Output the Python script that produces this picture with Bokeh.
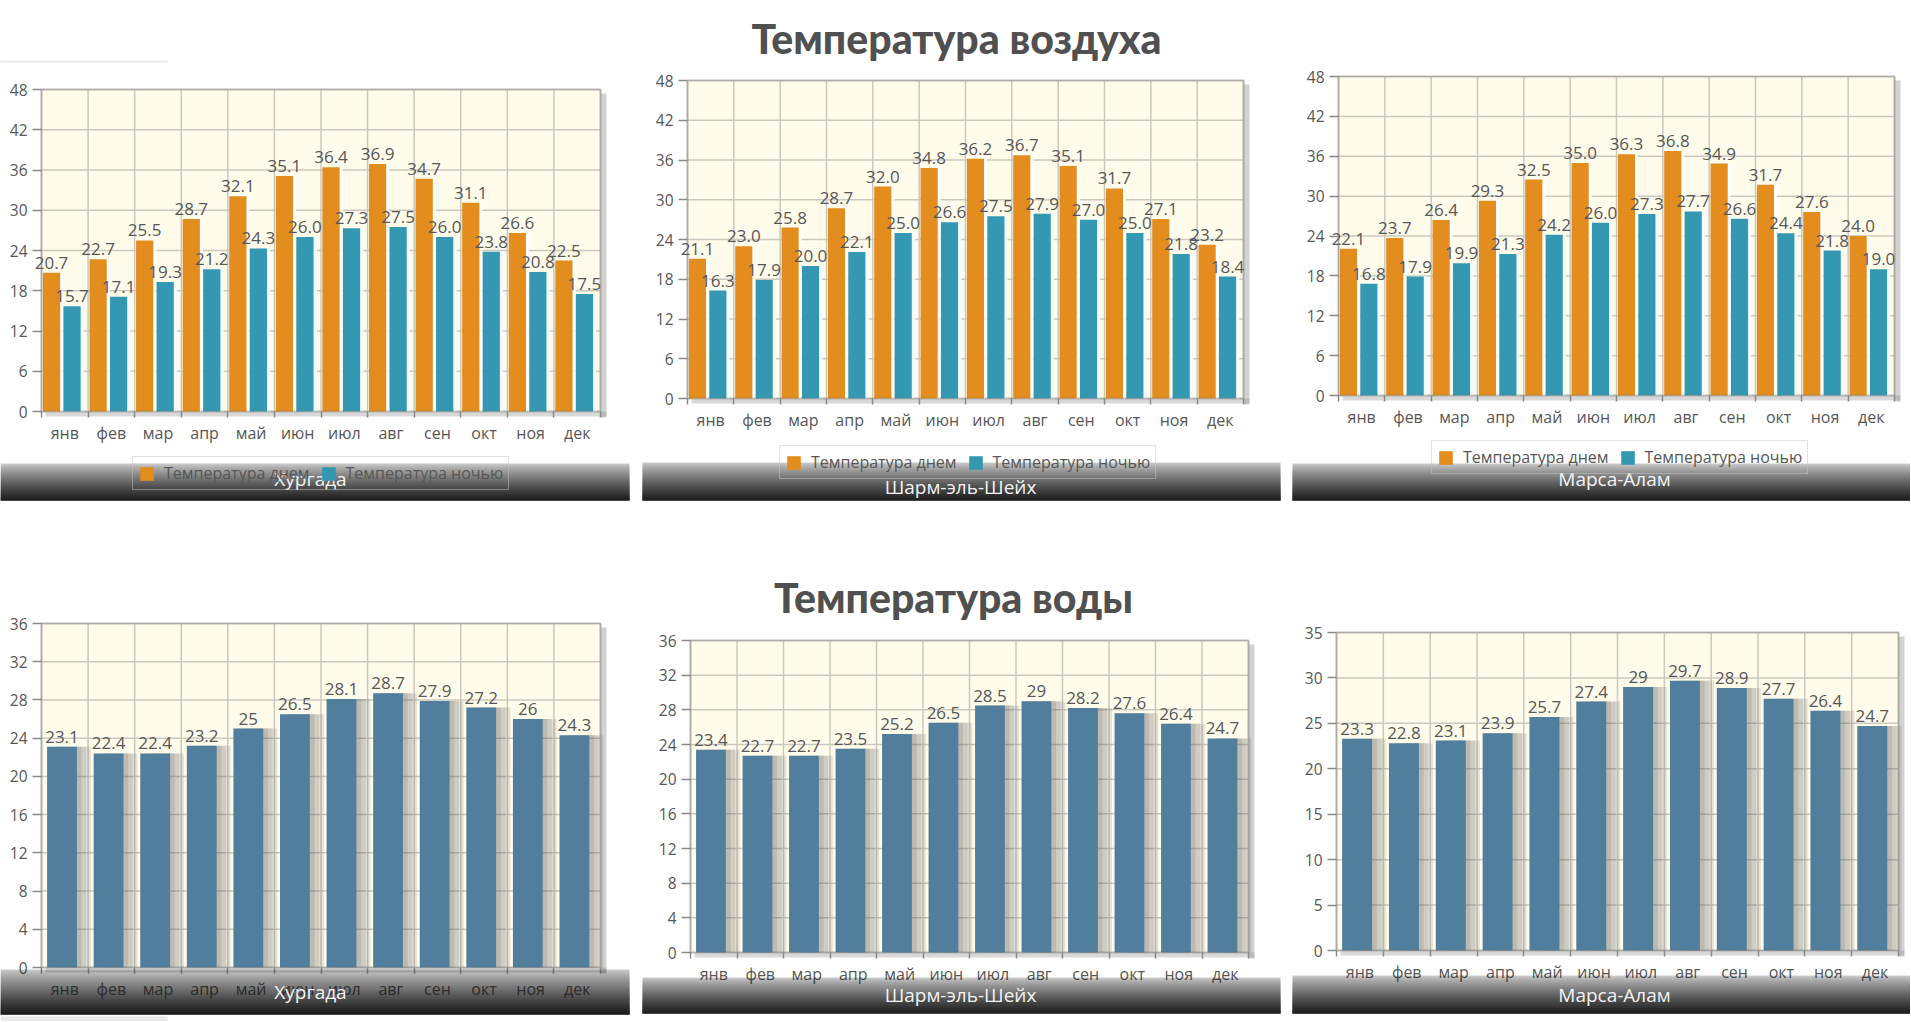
import numpy as np
from bokeh.plotting import figure
from bokeh.layouts import column, row
from bokeh.models import (ColumnDataSource, Range1d, FixedTicker, BoxAnnotation, Label,
                          Legend, LegendItem)
from bokeh.transform import dodge
from bokeh.embed import file_html
from bokeh.resources import INLINE
from bokeh.core.properties import value

# ---------------- data ----------------
months = ["янв", "фев", "мар", "апр", "май", "июн", "июл", "авг", "сен", "окт", "ноя", "дек"]
cities = ["Хургада", "Шарм-эль-Шейх", "Марса-Алам"]
series_names = ["Температура днем", "Температура ночью"]
title_air = "Температура воздуха"
title_water = "Температура воды"

air_day_hurghada = [20.7, 22.7, 25.5, 28.7, 32.1, 35.1, 36.4, 36.9, 34.7, 31.1, 26.6, 22.5]
air_night_hurghada = [15.7, 17.1, 19.3, 21.2, 24.3, 26.0, 27.3, 27.5, 26.0, 23.8, 20.8, 17.5]
air_day_sharm = [21.1, 23.0, 25.8, 28.7, 32.0, 34.8, 36.2, 36.7, 35.1, 31.7, 27.1, 23.2]
air_night_sharm = [16.3, 17.9, 20.0, 22.1, 25.0, 26.6, 27.5, 27.9, 27.0, 25.0, 21.8, 18.4]
air_day_marsa = [22.1, 23.7, 26.4, 29.3, 32.5, 35.0, 36.3, 36.8, 34.9, 31.7, 27.6, 24.0]
air_night_marsa = [16.8, 17.9, 19.9, 21.3, 24.2, 26.0, 27.3, 27.7, 26.6, 24.4, 21.8, 19.0]

water_hurghada = [23.1, 22.4, 22.4, 23.2, 25, 26.5, 28.1, 28.7, 27.9, 27.2, 26, 24.3]
water_sharm = [23.4, 22.7, 22.7, 23.5, 25.2, 26.5, 28.5, 29, 28.2, 27.6, 26.4, 24.7]
water_marsa = [23.3, 22.8, 23.1, 23.9, 25.7, 27.4, 29, 29.7, 28.9, 27.7, 26.4, 24.7]

air_ticks = [0, 6, 12, 18, 24, 30, 36, 42, 48]
water_ticks_a = [0, 4, 8, 12, 16, 20, 24, 28, 32, 36]
water_ticks_b = [0, 5, 10, 15, 20, 25, 30, 35]

# ---------------- style ----------------
ORANGE = "#E28D1E"
TEAL = "#3498B3"
WATER = "#517E9C"
CREAM = "#FFFCEC"
GRID = "#cbc8bf"
TEXT = "#575757"
FONT = "Open Sans"

# panel geometry (canvas pixels, y from top): plot area, caption bar, city text, legend, title
G = {
    "TL": dict(W=635, H=510, plot=(41, 600, 89, 411), cap=(0, 629, 463, 500), city=(310, 478), leg=(132, 490),
               stray=(0, 167, 60, 62)),
    "TM": dict(W=651, H=510, plot=(52, 608, 80, 398), cap=(7, 645, 462, 500), city=(325, 486), leg=(144, 479),
               title=(321, 38)),
    "TR": dict(W=624, H=510, plot=(52, 608, 76, 395), cap=(6, 624, 463, 500), city=(328, 478), leg=(145, 474)),
    "BL": dict(W=635, H=511, plot=(41, 600, 113, 457), cap=(0, 629, 459, 504), city=(310, 481),
               stray=(0, 167, 506, 511)),
    "BM": dict(W=651, H=511, plot=(55, 613, 130, 442), cap=(7, 645, 467, 503), city=(325, 484),
               title=(318, 87)),
    "BR": dict(W=624, H=511, plot=(50, 612, 122, 440), cap=(6, 624, 465, 503), city=(328, 484)),
}


def scr_box(g, x_left, x_right, y_top, y_bottom, **kw):
    H = g["H"]
    return BoxAnnotation(left=x_left, right=x_right, top=H - y_top, bottom=H - y_bottom,
                         left_units="screen", right_units="screen", top_units="screen",
                         bottom_units="screen", **kw)


def base_figure(g, yticks):
    n = len(months)
    ymax = yticks[-1]
    W, H = g["W"], g["H"]
    x0, x1, y0, y1 = g["plot"]
    fw, fh = x1 - x0, y1 - y0
    xr = Range1d(-x0 * n / fw, n + (W - x1) * n / fw)
    yr = Range1d(-(H - y1) * ymax / fh, ymax + y0 * ymax / fh)
    p = figure(width=W, height=H, x_range=xr, y_range=yr,
               output_backend="svg", toolbar_location=None, tools="", min_border=0)
    p.min_border_left = p.min_border_right = p.min_border_top = p.min_border_bottom = 0
    p.background_fill_color = "white"
    p.border_fill_color = "white"
    p.outline_line_color = None
    p.xgrid.visible = False
    p.ygrid.visible = False

    centers = [i + 0.5 for i in range(n)]
    bounds = list(range(n + 1))

    if "stray" in g:
        sl, sr, st, sb = g["stray"]
        p.add_layout(scr_box(g, sl, sr, st, sb, fill_color="#e9e9e9", fill_alpha=1,
                             line_color=None, level="underlay"))
    # plot area background + shadow
    p.add_layout(scr_box(g, x1, x1 + 6, y0 + 4, y1 + 6, fill_color="#8f8f8f", fill_alpha=0.4,
                         line_color=None, level="underlay"))
    p.add_layout(scr_box(g, x0 + 4, x1 + 6, y1, y1 + 5, fill_color="#8f8f8f", fill_alpha=0.35,
                         line_color=None, level="underlay"))
    p.add_layout(BoxAnnotation(left=0, right=n, bottom=0, top=ymax, fill_color=CREAM,
                               fill_alpha=1, line_color=None, level="underlay"))
    # grid lines from the ticks
    p.segment(x0=0, x1=n, y0=yticks, y1=yticks, line_color=GRID, line_width=1.5)
    p.segment(x0=bounds, x1=bounds, y0=0, y1=ymax, line_color=GRID, line_width=1.5)

    ax = p.xaxis[0]
    ax.fixed_location = 0
    ax.ticker = FixedTicker(ticks=centers, minor_ticks=bounds)
    ax.major_label_overrides = {c: m for c, m in zip(centers, months)}
    ax.axis_line_color = None
    ax.major_tick_line_color = None
    ax.major_tick_out = 0
    ax.major_tick_in = 0
    ax.minor_tick_in = 0
    ax.minor_tick_out = 6
    ax.minor_tick_line_color = "#8a8a8a"
    ax.minor_tick_line_width = 1.5
    ax.major_label_standoff = 4
    ax.major_label_text_font = FONT
    ax.major_label_text_font_size = "16px"
    ax.major_label_text_color = TEXT

    ay = p.yaxis[0]
    ay.fixed_location = 0
    ay.ticker = FixedTicker(ticks=yticks)
    ay.axis_line_color = None
    ay.major_tick_in = 0
    ay.major_tick_out = 9
    ay.major_tick_line_color = "#8a8a8a"
    ay.major_tick_line_width = 1.5
    ay.minor_tick_line_color = None
    ay.major_label_standoff = 5
    ay.major_label_text_font = FONT
    ay.major_label_text_font_size = "15.5px"
    ay.major_label_text_color = TEXT
    return p


def frame_outline(p, yticks):
    p.add_layout(BoxAnnotation(left=0, right=len(months), bottom=0, top=yticks[-1], fill_alpha=0,
                               line_color="#6c6c6c", line_width=2.2, level="annotation"))


def decorate(p, g, city, title=None):
    H = g["H"]
    l, r, ct, cb = g["cap"]
    span = cb - ct
    # stacked layers, each reaching the bottom of the bar: opacity builds up downwards
    prev = 0.0
    for k in range(span):
        t = k / (span - 1)
        target = 0.22 + 0.72 * t ** 0.8
        a = 1 - (1 - target) / (1 - prev)
        prev = target
        p.add_layout(scr_box(g, l, r, ct + k, cb, fill_color="#141414",
                             fill_alpha=a, line_color=None, level="overlay"))
    cx, cy = g["city"]
    p.add_layout(Label(x=cx, y=H - cy, x_units="screen", y_units="screen", text=city,
                       text_align="center", text_baseline="middle", text_color="#f3f3f3",
                       text_font=FONT, text_font_size="19px", level="overlay"))
    if title is not None:
        tx, ty = g["title"]
        p.add_layout(Label(x=tx, y=H - ty, x_units="screen", y_units="screen", text=title,
                           text_align="center", text_baseline="alphabetic", text_color="#505050",
                           text_font="Lato Black", text_font_style="bold", text_font_size="41px"))


def air_panel(key, city, day, night, title=None):
    g = G[key]
    p = base_figure(g, air_ticks)
    src = ColumnDataSource(dict(x=[i + 0.5 for i in range(len(months))], day=day, night=night,
                                day_lbl=[f"{v:.1f}" for v in day],
                                night_lbl=[f"{v:.1f}" for v in night]))
    p.vbar(x=dodge("x", -0.22, range=p.x_range), top="day", width=0.37, source=src,
           fill_color="white", fill_alpha=0.9, line_color=None)
    p.vbar(x=dodge("x", 0.225, range=p.x_range), top="night", width=0.37, source=src,
           fill_color="#f2fbff", fill_alpha=0.95, line_color=None)
    r_day = p.vbar(x=dodge("x", -0.285, range=p.x_range), top="day", width=0.37, source=src,
                   fill_color=ORANGE, line_color=None)
    r_night = p.vbar(x=dodge("x", 0.155, range=p.x_range), top="night", width=0.37, source=src,
                     fill_color=TEAL, line_color=None)
    for col, off in (("day", -0.285), ("night", 0.155)):
        p.text(x=dodge("x", off, range=p.x_range), y=col, text=col + "_lbl", source=src,
               text_align="center", text_baseline="bottom", y_offset=-4,
               text_font=value(FONT), text_font_size=value("17px"), text_color=TEXT)
    frame_outline(p, air_ticks)
    lx, lb = g["leg"]
    legend = Legend(items=[LegendItem(label=series_names[0], renderers=[r_day]),
                           LegendItem(label=series_names[1], renderers=[r_night])],
                    location=(lx, g["H"] - lb), orientation="horizontal", margin=0, padding=5,
                    spacing=10, label_standoff=9, glyph_width=17, glyph_height=17,
                    border_line_color="#c6c6c6", background_fill_color="white",
                    background_fill_alpha=0.0, label_text_font=FONT,
                    label_text_font_size="16px", label_text_color=TEXT)
    p.add_layout(legend)
    decorate(p, g, city, title)
    return p


def water_panel(key, city, vals, yticks, title=None):
    g = G[key]
    p = base_figure(g, yticks)
    src = ColumnDataSource(dict(x=[i + 0.5 for i in range(len(months))], v=vals,
                                lbl=[f"{v:g}" for v in vals]))
    for d in (0.30, 0.20, 0.10):
        p.vbar(x=dodge("x", -0.06 + d, range=p.x_range), top="v", width=0.64, source=src,
               fill_color="#5e5e5e", fill_alpha=0.16, line_color=None)
    p.vbar(x=dodge("x", -0.06, range=p.x_range), top="v", width=0.64, source=src,
           fill_color=WATER, line_color=None)
    p.text(x=dodge("x", -0.06, range=p.x_range), y="v", text="lbl", source=src,
           text_align="center", text_baseline="bottom", y_offset=-4,
           text_font=value(FONT), text_font_size=value("17px"), text_color=TEXT)
    frame_outline(p, yticks)
    decorate(p, g, city, title)
    return p


tl = air_panel("TL", cities[0], air_day_hurghada, air_night_hurghada)
tm = air_panel("TM", cities[1], air_day_sharm, air_night_sharm, title=title_air)
tr = air_panel("TR", cities[2], air_day_marsa, air_night_marsa)
bl = water_panel("BL", cities[0], water_hurghada, water_ticks_a)
bm = water_panel("BM", cities[1], water_sharm, water_ticks_a, title=title_water)
br = water_panel("BR", cities[2], water_marsa, water_ticks_b)

page = column(row(tl, tm, tr), row(bl, bm, br))
open("out.html", "w").write(file_html(page, INLINE))
